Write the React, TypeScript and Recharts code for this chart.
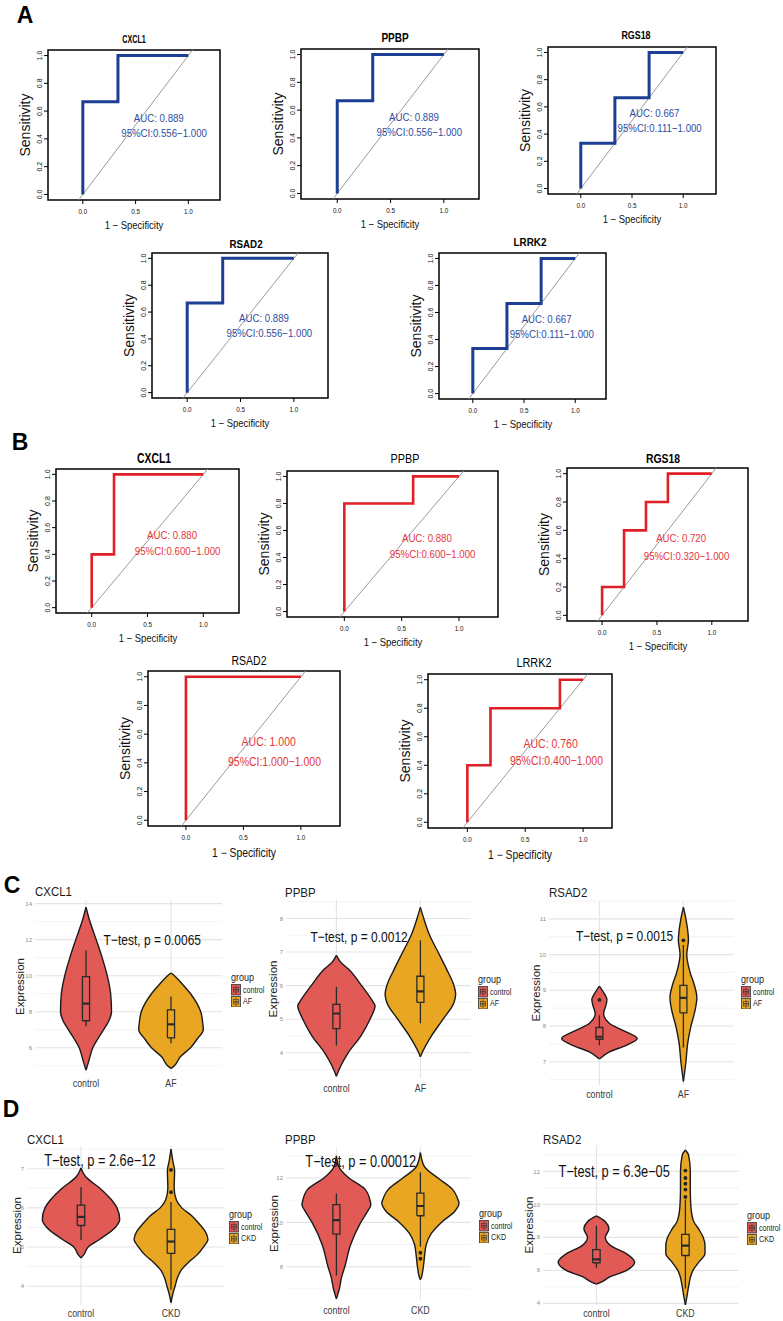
import React from 'react';
import {
  ComposedChart,
  Line,
  Area,
  Scatter,
  XAxis,
  YAxis,
  CartesianGrid,
  ReferenceLine,
  ReferenceArea,
} from 'recharts';

const SANS = "'Liberation Sans', Arial, Helvetica, sans-serif";

// ---------- ROC curves: 1 - specificity / sensitivity ----------
const A_CXCL1_FPR = [0, 0, 0.333, 0.333, 1];
const A_CXCL1_TPR = [0, 0.667, 0.667, 1, 1];
const A_PPBP_FPR = [0, 0, 0.333, 0.333, 1];
const A_PPBP_TPR = [0, 0.667, 0.667, 1, 1];
const A_RGS18_FPR = [0, 0, 0.333, 0.333, 0.667, 0.667, 1];
const A_RGS18_TPR = [0, 0.333, 0.333, 0.667, 0.667, 1, 1];
const A_RSAD2_FPR = [0, 0, 0.333, 0.333, 1];
const A_RSAD2_TPR = [0, 0.667, 0.667, 1, 1];
const A_LRRK2_FPR = [0, 0, 0.333, 0.333, 0.667, 0.667, 1];
const A_LRRK2_TPR = [0, 0.333, 0.333, 0.667, 0.667, 1, 1];

const B_CXCL1_FPR = [0, 0, 0.2, 0.2, 1];
const B_CXCL1_TPR = [0, 0.4, 0.4, 1, 1];
const B_PPBP_FPR = [0, 0, 0.6, 0.6, 1];
const B_PPBP_TPR = [0, 0.8, 0.8, 1, 1];
const B_RGS18_FPR = [0, 0, 0.2, 0.2, 0.4, 0.4, 0.6, 0.6, 1];
const B_RGS18_TPR = [0, 0.2, 0.2, 0.6, 0.6, 0.8, 0.8, 1, 1];
const B_RSAD2_FPR = [0, 0, 1];
const B_RSAD2_TPR = [0, 1, 1];
const B_LRRK2_FPR = [0, 0, 0.2, 0.2, 0.8, 0.8, 1];
const B_LRRK2_TPR = [0, 0.4, 0.4, 0.8, 0.8, 1, 1];

const ROC_GENES = ['CXCL1', 'PPBP', 'RGS18', 'RSAD2', 'LRRK2'];
const A_AUC = ['0.889', '0.889', '0.667', '0.889', '0.667'];
const A_CI = ['0.556−1.000', '0.556−1.000', '0.111−1.000', '0.556−1.000', '0.111−1.000'];
const B_AUC = ['0.880', '0.880', '0.720', '1.000', '0.760'];
const B_CI = ['0.600−1.000', '0.600−1.000', '0.320−1.000', '1.000−1.000', '0.400−1.000'];

const SENS_TICKS = [0, 0.2, 0.4, 0.6, 0.8, 1];
const SPEC_TICKS = [0, 0.5, 1];
const ROC_Y_DOMAIN: [number, number] = [-0.04, 1.04];

// ---------- violin data: y levels, half widths, box stats [lo, q1, med, q3, hi], outliers ----------
const C_CXCL1_CTRL_Y = [4.76, 5.3, 6.0, 6.5, 6.95, 7.5, 8.0, 9.0, 10.0, 11.0, 12.0, 13.1, 13.8];
const C_CXCL1_CTRL_W = [0, 0.035, 0.08, 0.14, 0.2, 0.27, 0.3, 0.29, 0.25, 0.19, 0.12, 0.04, 0];
const C_CXCL1_CTRL_BOX = [7.2, 7.5, 8.45, 9.95, 11.4];
const C_CXCL1_AF_Y = [4.85, 5.0, 5.5, 6.0, 6.5, 7.0, 7.5, 8.0, 8.5, 9.0, 9.5, 10.0, 10.15];
const C_CXCL1_AF_W = [0, 0.04, 0.11, 0.23, 0.31, 0.38, 0.37, 0.35, 0.3, 0.23, 0.14, 0.04, 0];
const C_CXCL1_AF_BOX = [6.25, 6.55, 7.3, 8.1, 8.85];

const C_PPBP_CTRL_Y = [3.3, 3.6, 4.0, 4.5, 5.0, 5.4, 5.5, 6.0, 6.5, 6.7, 6.9];
const C_PPBP_CTRL_W = [0, 0.05, 0.14, 0.29, 0.4, 0.46, 0.44, 0.3, 0.14, 0.05, 0];
const C_PPBP_CTRL_BOX = [4.22, 4.72, 5.17, 5.44, 5.97];
const C_PPBP_AF_Y = [3.88, 4.0, 4.5, 5.0, 5.5, 5.75, 6.0, 6.5, 7.0, 7.5, 8.0, 8.33];
const C_PPBP_AF_W = [0, 0.02, 0.13, 0.27, 0.4, 0.42, 0.4, 0.31, 0.21, 0.11, 0.04, 0];
const C_PPBP_AF_BOX = [4.88, 5.5, 5.83, 6.28, 7.35];

const C_RSAD2_CTRL_Y = [7.08, 7.28, 7.46, 7.65, 7.88, 8.07, 8.35, 8.6, 8.75, 8.9, 9.12];
const C_RSAD2_CTRL_W = [0, 0.12, 0.32, 0.45, 0.28, 0.12, 0.05, 0.08, 0.09, 0.06, 0];
const C_RSAD2_CTRL_BOX = [7.46, 7.63, 7.7, 7.96, 8.3];
const C_RSAD2_CTRL_OUT = [8.73];
const C_RSAD2_AF_Y = [6.45, 7.0, 7.5, 8.0, 8.45, 8.8, 9.15, 9.5, 10.0, 10.4, 11.0, 11.33];
const C_RSAD2_AF_W = [0, 0.03, 0.05, 0.09, 0.14, 0.16, 0.13, 0.08, 0.04, 0.06, 0.03, 0];
const C_RSAD2_AF_BOX = [7.4, 8.37, 8.79, 9.14, 10.27];
const C_RSAD2_AF_OUT = [10.4];

const D_CXCL1_CTRL_Y = [4.72, 4.8, 5.0, 5.2, 5.5, 5.7, 6.0, 6.2, 6.5, 6.8, 7.02];
const D_CXCL1_CTRL_W = [0, 0.03, 0.08, 0.21, 0.38, 0.43, 0.4, 0.34, 0.21, 0.05, 0];
const D_CXCL1_CTRL_BOX = [5.18, 5.55, 5.77, 6.07, 6.53];
const D_CXCL1_CKD_Y = [3.58, 3.8, 4.0, 4.2, 4.4, 4.6, 4.8, 5.0, 5.2, 5.4, 5.6, 5.8, 6.0, 6.2, 6.5, 6.95, 7.2, 7.5];
const D_CXCL1_CKD_W = [0, 0.02, 0.045, 0.07, 0.11, 0.19, 0.29, 0.36, 0.41, 0.38, 0.31, 0.23, 0.12, 0.06, 0.035, 0.04, 0.02, 0];
const D_CXCL1_CKD_BOX = [3.91, 4.84, 5.14, 5.45, 6.15];
const D_CXCL1_CKD_OUT = [6.4, 6.97];

const D_PPBP_CTRL_Y = [6.55, 7.0, 7.5, 8.0, 9.0, 10.0, 10.5, 10.8, 11.0, 11.5, 12.0, 12.5, 13.0];
const D_PPBP_CTRL_W = [0, 0.035, 0.06, 0.1, 0.17, 0.29, 0.37, 0.41, 0.4, 0.34, 0.15, 0.03, 0];
const D_PPBP_CTRL_BOX = [7.6, 9.47, 10.1, 10.8, 11.3];
const D_PPBP_CKD_Y = [7.42, 7.5, 8.0, 8.5, 9.0, 9.5, 10.0, 10.5, 10.87, 11.0, 11.5, 12.0, 12.5, 13.15];
const D_PPBP_CKD_W = [0, 0.01, 0.035, 0.05, 0.07, 0.13, 0.25, 0.41, 0.46, 0.45, 0.38, 0.21, 0.05, 0];
const D_PPBP_CKD_BOX = [8.9, 10.3, 10.74, 11.32, 12.26];
const D_PPBP_CKD_OUT = [8.36, 8.63];

const D_RSAD2_CTRL_Y = [5.16, 5.3, 5.6, 6.0, 6.5, 7.0, 7.5, 8.0, 8.5, 9.0, 9.3];
const D_RSAD2_CTRL_W = [0, 0.06, 0.15, 0.34, 0.43, 0.34, 0.16, 0.1, 0.14, 0.09, 0];
const D_RSAD2_CTRL_BOX = [6.16, 6.46, 6.66, 7.26, 8.7];
const D_RSAD2_CKD_Y = [3.9, 4.5, 5.0, 6.0, 6.5, 7.0, 7.5, 8.0, 8.5, 9.0, 10.0, 11.0, 12.0, 13.0, 13.3];
const D_RSAD2_CKD_W = [0, 0.02, 0.035, 0.085, 0.15, 0.22, 0.22, 0.2, 0.15, 0.09, 0.06, 0.055, 0.055, 0.035, 0];
const D_RSAD2_CKD_BOX = [4.9, 6.9, 7.5, 8.18, 10.3];
const D_RSAD2_CKD_OUT = [10.45, 10.9, 11.25, 11.6, 12.05];

const C_GROUPS = ['control', 'AF'];
const D_GROUPS = ['control', 'CKD'];
const C_TTEST = ['0.0065', '0.0012', '0.0015'];
const D_TTEST = ['2.6e−12', '0.00012', '6.3e−05'];

const CTRL_COLOR = '#E15A56';
const CASE_COLOR = '#E9A623';
const BLUE = '#1C3F94';
const BLUE_TEXT = '#2F4E9F';
const RED = '#E11F26';
const RED_TEXT = '#E6363A';
const BW = 0.042;

// condensed svg text (the figure is squeezed horizontally)
const CondText = ({ x, y, children, size, fill = '#111', weight = 400, anchor = 'middle', sx = 0.84 }: any) => (
  <text
    transform={`translate(${x} ${y}) scale(${sx} 1)`}
    textAnchor={anchor}
    dominantBaseline="central"
    fontSize={size}
    fill={fill}
    fontWeight={weight}
    fontFamily={SANS}
  >
    {children}
  </text>
);

const CondDiv = ({ x, y, size, children, weight = 400, sx = 0.84, align = 'center', color = '#111' }: any) => (
  <div
    style={{
      position: 'absolute',
      left: x,
      top: y,
      transform: `translate(${align === 'center' ? '-50%' : '0'}, -50%) scaleX(${sx})`,
      transformOrigin: align === 'center' ? 'center center' : 'left center',
      fontFamily: SANS,
      fontWeight: weight,
      fontSize: size,
      lineHeight: 1,
      whiteSpace: 'nowrap',
      color,
    }}
  >
    {children}
  </div>
);

const RotTick = (p: any) => {
  const { x, y, payload } = p;
  return (
    <text x={x} y={y} transform={`rotate(-90 ${x} ${y})`} textAnchor="middle" fontSize={7} fill="#111" fontFamily={SANS}>
      {Number(payload.value).toFixed(1)}
    </text>
  );
};

const SpecTick = (p: any) => (
  <CondText x={p.x} y={p.y + 4} size={7.5}>
    {Number(p.payload.value).toFixed(1)}
  </CondText>
);

type RocCfg = {
  box: [number, number, number, number];
  xd: [number, number];
  tx: number;
  ty: number;
  bold: boolean;
  tsize: number;
  tsx: number;
  big: boolean;
  aucY: [number, number];
};

const RocPanel = ({ cfg, title, fpr, tpr, auc, ci, color, textColor, lw }: any) => {
  const c: RocCfg = cfg;
  const [L, T, R, B] = c.box;
  const ML = 46, MR = 4, MT = 4, MB = 20;
  const W = R - L + ML + MR;
  const H = B - T + MT + MB;
  const data = fpr.map((x: number, i: number) => ({ spec: x, sens: tpr[i] }));
  const fs = c.big ? 12.5 : 11.5;
  const aucLines = [
    { spec: 0.72, sens: c.aucY[0], text: `AUC: ${auc}` },
    { spec: 0.77, sens: c.aucY[1], text: `95%CI:${ci}` },
  ];
  return (
    <>
      <CondDiv x={c.tx} y={c.ty} size={c.tsize} weight={c.bold ? 700 : 400} sx={c.tsx} color="#000">
        {title}
      </CondDiv>
      <CondDiv x={(L + R) / 2} y={B + (c.big ? 27 : 25)} size={c.big ? 12 : 11} sx={0.86}>
        1 − Specificity
      </CondDiv>
      <div style={{ position: 'absolute', left: L - ML, top: T - MT }}>
        <ComposedChart width={W} height={H} data={data} margin={{ top: MT, right: MR, bottom: 0, left: 0 }}>
          <XAxis
            type="number"
            dataKey="spec"
            domain={c.xd}
            allowDataOverflow
            ticks={SPEC_TICKS}
            height={MB}
            axisLine={false}
            tickSize={4}
            tickMargin={3}
            tickLine={{ stroke: '#000' }}
            tick={SpecTick}
          />
          <YAxis
            type="number"
            domain={ROC_Y_DOMAIN}
            allowDataOverflow
            ticks={SENS_TICKS}
            width={ML}
            axisLine={false}
            tickSize={4}
            tickMargin={2}
            tickLine={{ stroke: '#000' }}
            tick={RotTick}
            label={{ value: 'Sensitivity', angle: -90, position: 'center', fontSize: 14, fill: '#111', fontFamily: SANS }}
          />
          <ReferenceLine
            segment={[{ x: ROC_Y_DOMAIN[0], y: ROC_Y_DOMAIN[0] }, { x: ROC_Y_DOMAIN[1], y: ROC_Y_DOMAIN[1] }]}
            stroke="#9a9a9a"
            strokeWidth={1}
            ifOverflow="hidden"
          />
          <Line type="linear" dataKey="sens" stroke={color} strokeWidth={lw} dot={false} activeDot={false} isAnimationActive={false} />
          <ReferenceArea x1={c.xd[0]} x2={c.xd[1]} y1={ROC_Y_DOMAIN[0]} y2={ROC_Y_DOMAIN[1]} fill="none" stroke="#000" strokeWidth={1.5} />
          <Scatter
            data={aucLines}
            dataKey="sens"
            isAnimationActive={false}
            shape={(p: any) => (
              <CondText x={p.cx} y={p.cy} size={fs} fill={textColor}>
                {p.payload.text}
              </CondText>
            )}
          />
        </ComposedChart>
      </div>
    </>
  );
};

const A_CFG: RocCfg[] = [
  { box: [48, 50, 220, 200], xd: [-0.33, 1.3], tx: 134, ty: 40, bold: true, tsize: 10, tsx: 0.72, big: false, aucY: [0.555, 0.445] },
  { box: [301, 49, 479, 199], xd: [-0.34, 1.33], tx: 395, ty: 38, bold: true, tsize: 12.5, tsx: 0.8, big: false, aucY: [0.555, 0.445] },
  { box: [548, 47, 716, 194], xd: [-0.32, 1.32], tx: 636, ty: 36, bold: true, tsize: 11.5, tsx: 0.77, big: false, aucY: [0.555, 0.445] },
  { box: [152, 253, 328, 398], xd: [-0.33, 1.32], tx: 246, ty: 245, bold: true, tsize: 11.5, tsx: 0.85, big: false, aucY: [0.555, 0.445] },
  { box: [439, 253, 606, 399], xd: [-0.33, 1.3], tx: 530, ty: 243, bold: true, tsize: 11.5, tsx: 0.86, big: false, aucY: [0.555, 0.445] },
];
const B_CFG: RocCfg[] = [
  { box: [56, 469, 239, 613], xd: [-0.32, 1.32], tx: 154, ty: 458, bold: true, tsize: 14, tsx: 0.74, big: false, aucY: [0.55, 0.43] },
  { box: [287, 471, 498, 617], xd: [-0.5, 1.34], tx: 405, ty: 458, bold: false, tsize: 13, tsx: 0.83, big: false, aucY: [0.55, 0.43] },
  { box: [567, 468, 748, 621], xd: [-0.32, 1.33], tx: 663, ty: 458, bold: true, tsize: 13, tsx: 0.8, big: false, aucY: [0.55, 0.42] },
  { box: [148, 671, 340, 826], xd: [-0.33, 1.34], tx: 249, ty: 661, bold: false, tsize: 12.5, tsx: 0.84, big: true, aucY: [0.545, 0.41] },
  { box: [428, 674, 612, 828], xd: [-0.34, 1.25], tx: 534, ty: 663, bold: false, tsize: 12.5, tsx: 0.87, big: true, aucY: [0.55, 0.43] },
];
const A_CURVES = [
  [A_CXCL1_FPR, A_CXCL1_TPR],
  [A_PPBP_FPR, A_PPBP_TPR],
  [A_RGS18_FPR, A_RGS18_TPR],
  [A_RSAD2_FPR, A_RSAD2_TPR],
  [A_LRRK2_FPR, A_LRRK2_TPR],
];
const B_CURVES = [
  [B_CXCL1_FPR, B_CXCL1_TPR],
  [B_PPBP_FPR, B_PPBP_TPR],
  [B_RGS18_FPR, B_RGS18_TPR],
  [B_RSAD2_FPR, B_RSAD2_TPR],
  [B_LRRK2_FPR, B_LRRK2_TPR],
];

// ---------- violins ----------
const violinRows = (pos: number, ys: number[], ws: number[]) => ys.map((y, i) => ({ y, range: [pos - ws[i], pos + ws[i]] }));
const boxRows = (pos: number, s: number[]) => [
  { y: s[1], x: pos - BW },
  { y: s[1], x: pos + BW },
  { y: s[3], x: pos + BW },
  { y: s[3], x: pos - BW },
  { y: s[1], x: pos - BW },
];

const LegendKey = ({ color }: { color: string }) => (
  <svg width={10} height={11.5} style={{ display: 'block', flex: 'none' }}>
    <rect x={0.5} y={0.5} width={9} height={10.5} fill={color} stroke="#333" strokeWidth={0.8} />
    <line x1={5} y1={1.5} x2={5} y2={10} stroke="#333" strokeWidth={0.6} />
    <rect x={2.5} y={3.5} width={5} height={4.5} fill="none" stroke="#333" strokeWidth={0.6} />
    <line x1={2.5} y1={5.8} x2={7.5} y2={5.8} stroke="#333" strokeWidth={1} />
  </svg>
);

const GroupLegend = ({ x, y, names }: { x: number; y: number; names: string[] }) => (
  <div style={{ position: 'absolute', left: x, top: y - 6, fontFamily: SANS, color: '#222' }}>
    <div style={{ fontSize: 11, lineHeight: '12px', height: 13, transform: 'scaleX(0.82)', transformOrigin: 'left center' }}>group</div>
    {names.map((n, i) => (
      <div key={n} style={{ display: 'flex', alignItems: 'center', height: 11.5 }}>
        <LegendKey color={i === 0 ? CTRL_COLOR : CASE_COLOR} />
        <span style={{ fontSize: 8.5, marginLeft: 2, lineHeight: '10px', transform: 'scaleX(0.84)', transformOrigin: 'left center', whiteSpace: 'nowrap' }}>{n}</span>
      </div>
    ))}
  </div>
);

type ViolinCfg = {
  box: [number, number, number, number];
  yd: [number, number];
  ticks: number[];
  minor: number[];
  ml: number;
  tx: number;
  ty: number;
  tpos: [number, number];
  tsize: number;
  legend: [number, number];
  lab: number;
};

const ViolinPanel = ({ cfg, title, groups, pval, violins }: any) => {
  const c: ViolinCfg = cfg;
  const [L, T, R, B] = c.box;
  const MR = 2, MT = 2, MB = 20;
  const W = R - L + c.ml + MR;
  const H = B - T + MT + MB;
  const GroupTick = (p: any) => (
    <CondText x={p.x} y={p.y + c.lab - 2} size={10.5} fill="#3a3a3a" sx={0.84}>
      {groups[Math.round(p.payload.value) - 1]}
    </CondText>
  );
  return (
    <>
      <CondDiv x={c.tx} y={c.ty} size={13.5} sx={0.85} align="left" color="#1a1a1a">
        {title}
      </CondDiv>
      <div style={{ position: 'absolute', left: L - c.ml, top: T - MT }}>
        <ComposedChart layout="vertical" width={W} height={H} margin={{ top: MT, right: MR, bottom: 0, left: 0 }}>
          <CartesianGrid horizontalValues={c.minor} vertical={false} stroke="#eeeeee" strokeWidth={0.7} />
          <CartesianGrid horizontalValues={c.ticks} verticalValues={[1, 2]} stroke="#e4e4e4" strokeWidth={1.1} />
          <XAxis
            type="number"
            domain={[0.4, 2.6]}
            allowDataOverflow
            ticks={[1, 2]}
            height={MB}
            axisLine={false}
            tickLine={false}
            tickSize={0}
            tickMargin={2}
            tick={GroupTick}
          />
          <YAxis
            type="number"
            dataKey="y"
            domain={c.yd}
            reversed
            allowDataOverflow
            ticks={c.ticks}
            width={c.ml}
            axisLine={false}
            tickLine={false}
            tickSize={0}
            tickMargin={3}
            tick={{ fontSize: 6, fill: '#8c8c8c', fontFamily: SANS }}
            label={{ value: 'Expression', angle: -90, position: 'center', fontSize: 11.5, fill: '#222', fontFamily: SANS }}
          />
          {violins.map((v: any, i: number) => (
            <Area
              key={`v${i}`}
              data={violinRows(i + 1, v.ys, v.ws)}
              dataKey="range"
              type="monotone"
              fill={i === 0 ? CTRL_COLOR : CASE_COLOR}
              fillOpacity={1}
              stroke="#1a1a1a"
              strokeWidth={1.4}
              dot={false}
              activeDot={false}
              isAnimationActive={false}
            />
          ))}
          {violins.map((v: any, i: number) => (
            <Line key={`lw${i}`} data={[{ y: v.box[0], x: i + 1 }, { y: v.box[1], x: i + 1 }]} dataKey="x" stroke="#2a2a2a" strokeWidth={1.3} dot={false} activeDot={false} isAnimationActive={false} />
          ))}
          {violins.map((v: any, i: number) => (
            <Line key={`uw${i}`} data={[{ y: v.box[3], x: i + 1 }, { y: v.box[4], x: i + 1 }]} dataKey="x" stroke="#2a2a2a" strokeWidth={1.3} dot={false} activeDot={false} isAnimationActive={false} />
          ))}
          {violins.map((v: any, i: number) => (
            <Line key={`b${i}`} data={boxRows(i + 1, v.box)} dataKey="x" stroke="#2a2a2a" strokeWidth={1.3} dot={false} activeDot={false} isAnimationActive={false} />
          ))}
          {violins.map((v: any, i: number) => (
            <Line key={`m${i}`} data={[{ y: v.box[2], x: i + 1 - BW }, { y: v.box[2], x: i + 1 + BW }]} dataKey="x" stroke="#2a2a2a" strokeWidth={2.2} dot={false} activeDot={false} isAnimationActive={false} />
          ))}
          {violins.map((v: any, i: number) =>
            v.out ? (
              <Scatter
                key={`o${i}`}
                data={v.out.map((y: number) => ({ x: i + 1, y }))}
                dataKey="x"
                isAnimationActive={false}
                shape={(p: any) => <circle cx={p.cx} cy={p.cy} r={1.9} fill="#222" />}
              />
            ) : null,
          )}
          <Scatter
            data={[{ x: c.tpos[0], y: c.tpos[1] }]}
            dataKey="x"
            isAnimationActive={false}
            shape={(p: any) => (
              <CondText x={p.cx} y={p.cy} size={c.tsize} fill="#111" sx={0.8}>
                {`T−test, p = ${pval}`}
              </CondText>
            )}
          />
        </ComposedChart>
      </div>
      <GroupLegend x={c.legend[0]} y={c.legend[1]} names={groups} />
    </>
  );
};

const C_CFG: ViolinCfg[] = [
  { box: [35, 900, 222, 1073], yd: [4.6, 14.2], ticks: [6, 8, 10, 12, 14], minor: [5, 7, 9, 11, 13], ml: 30, tx: 35, ty: 892, tpos: [1.78, 12.0], tsize: 15, legend: [231, 977], lab: 10 },
  { box: [285.6, 900, 470.4, 1078], yd: [3.25, 8.55], ticks: [4, 5, 6, 7, 8], minor: [3.5, 4.5, 5.5, 6.5, 7.5, 8.5], ml: 26, tx: 285, ty: 893, tpos: [1.27, 7.44], tsize: 15, legend: [478, 979], lab: 10 },
  { box: [548.6, 901, 733.4, 1085], yd: [6.35, 11.5], ticks: [7, 8, 9, 10, 11], minor: [6.5, 7.5, 8.5, 9.5, 10.5, 11.5], ml: 27, tx: 549, ty: 893, tpos: [1.3, 10.52], tsize: 15, legend: [741, 979], lab: 9 },
];
const D_CFG: ViolinCfg[] = [
  { box: [27, 1146, 225, 1305], yd: [3.52, 7.58], ticks: [4, 5, 6, 7], minor: [4.5, 5.5, 6.5, 7.5], ml: 20, tx: 27, ty: 1140, tpos: [1.21, 7.2], tsize: 16, legend: [229, 1214], lab: 8 },
  { box: [285.6, 1147, 470.4, 1300], yd: [6.5, 13.4], ticks: [8, 10, 12], minor: [7, 9, 11, 13], ml: 25, tx: 285, ty: 1140, tpos: [1.29, 12.73], tsize: 16, legend: [479, 1213], lab: 10 },
  { box: [542.6, 1145, 738.4, 1305], yd: [3.9, 13.6], ticks: [4, 6, 8, 10, 12], minor: [5, 7, 9, 11, 13], ml: 29, tx: 543, ty: 1140, tpos: [1.2, 12.0], tsize: 16, legend: [747, 1215], lab: 8 },
];

const C_VIOLINS = [
  [
    { ys: C_CXCL1_CTRL_Y, ws: C_CXCL1_CTRL_W, box: C_CXCL1_CTRL_BOX },
    { ys: C_CXCL1_AF_Y, ws: C_CXCL1_AF_W, box: C_CXCL1_AF_BOX },
  ],
  [
    { ys: C_PPBP_CTRL_Y, ws: C_PPBP_CTRL_W, box: C_PPBP_CTRL_BOX },
    { ys: C_PPBP_AF_Y, ws: C_PPBP_AF_W, box: C_PPBP_AF_BOX },
  ],
  [
    { ys: C_RSAD2_CTRL_Y, ws: C_RSAD2_CTRL_W, box: C_RSAD2_CTRL_BOX, out: C_RSAD2_CTRL_OUT },
    { ys: C_RSAD2_AF_Y, ws: C_RSAD2_AF_W, box: C_RSAD2_AF_BOX, out: C_RSAD2_AF_OUT },
  ],
];
const D_VIOLINS = [
  [
    { ys: D_CXCL1_CTRL_Y, ws: D_CXCL1_CTRL_W, box: D_CXCL1_CTRL_BOX },
    { ys: D_CXCL1_CKD_Y, ws: D_CXCL1_CKD_W, box: D_CXCL1_CKD_BOX, out: D_CXCL1_CKD_OUT },
  ],
  [
    { ys: D_PPBP_CTRL_Y, ws: D_PPBP_CTRL_W, box: D_PPBP_CTRL_BOX },
    { ys: D_PPBP_CKD_Y, ws: D_PPBP_CKD_W, box: D_PPBP_CKD_BOX, out: D_PPBP_CKD_OUT },
  ],
  [
    { ys: D_RSAD2_CTRL_Y, ws: D_RSAD2_CTRL_W, box: D_RSAD2_CTRL_BOX },
    { ys: D_RSAD2_CKD_Y, ws: D_RSAD2_CKD_W, box: D_RSAD2_CKD_BOX, out: D_RSAD2_CKD_OUT },
  ],
];
const VIOLIN_GENES = ['CXCL1', 'PPBP', 'RSAD2'];

const PanelLetter = ({ x, y, text }: { x: number; y: number; text: string }) => (
  <div style={{ position: 'absolute', left: x, top: y, transform: 'translate(-50%, -50%)', fontFamily: SANS, fontWeight: 700, fontSize: 23, lineHeight: 1, color: '#000' }}>{text}</div>
);

export default function App() {
  return (
    <div style={{ position: 'absolute', left: 0, top: 0, width: 783, height: 1321, background: '#fff', overflow: 'hidden' }}>
      <PanelLetter x={25} y={15} text="A" />
      <PanelLetter x={20} y={442} text="B" />
      <PanelLetter x={12} y={885} text="C" />
      <PanelLetter x={11} y={1109} text="D" />
      {A_CFG.map((cfg, i) => (
        <RocPanel key={`a${i}`} cfg={cfg} title={ROC_GENES[i]} fpr={A_CURVES[i][0]} tpr={A_CURVES[i][1]} auc={A_AUC[i]} ci={A_CI[i]} color={BLUE} textColor={BLUE_TEXT} lw={3} />
      ))}
      {B_CFG.map((cfg, i) => (
        <RocPanel key={`b${i}`} cfg={cfg} title={ROC_GENES[i]} fpr={B_CURVES[i][0]} tpr={B_CURVES[i][1]} auc={B_AUC[i]} ci={B_CI[i]} color={RED} textColor={RED_TEXT} lw={2.6} />
      ))}
      {C_CFG.map((cfg, i) => (
        <ViolinPanel key={`c${i}`} cfg={cfg} title={VIOLIN_GENES[i]} groups={C_GROUPS} pval={C_TTEST[i]} violins={C_VIOLINS[i]} />
      ))}
      {D_CFG.map((cfg, i) => (
        <ViolinPanel key={`d${i}`} cfg={cfg} title={VIOLIN_GENES[i]} groups={D_GROUPS} pval={D_TTEST[i]} violins={D_VIOLINS[i]} />
      ))}
    </div>
  );
}
